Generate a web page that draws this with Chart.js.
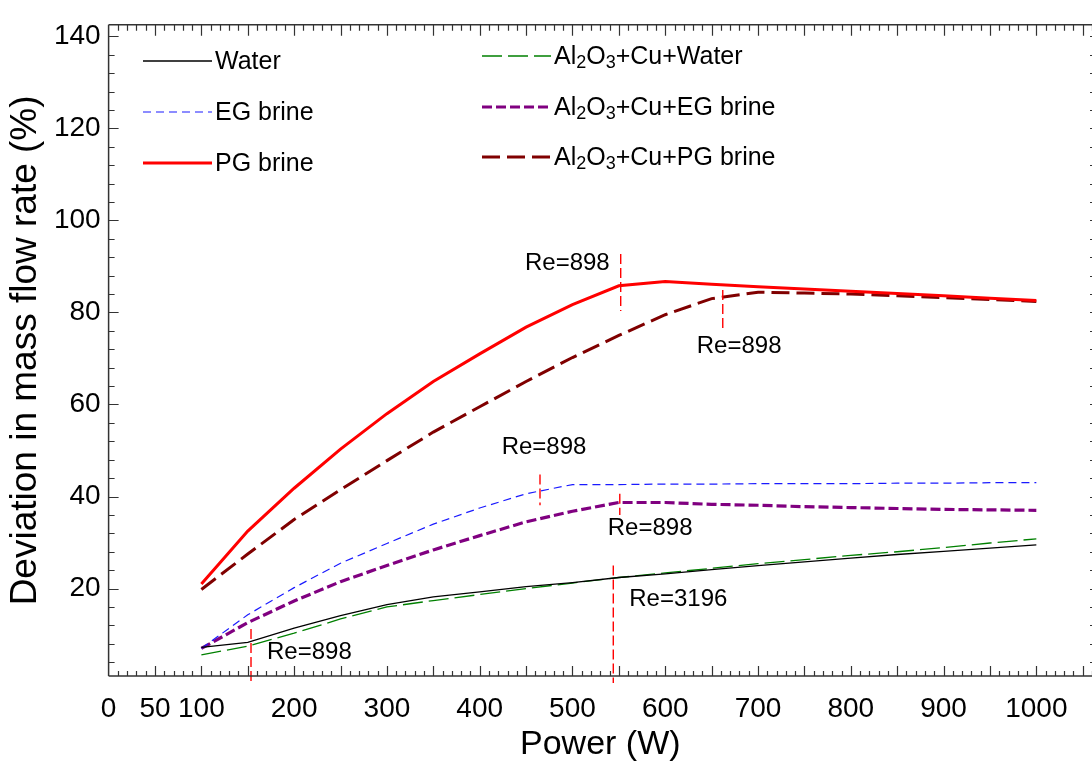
<!DOCTYPE html>
<html>
<head>
<meta charset="utf-8">
<script src="https://cdn.jsdelivr.net/npm/chart.js@4.4.1/dist/chart.umd.min.js"></script>
<style>
  html, body { margin: 0; padding: 0; background: #fff; }
</style>
</head>
<body>
<canvas id="flowChart" width="1092" height="765"></canvas>
<script>
// power levels (W) and deviation in mass flow rate (%)
const power = [100, 150, 200, 250, 300, 350, 400, 450, 500, 550, 600, 650, 700, 750, 800, 850, 900, 950, 1000];
const water = [7.2, 8.3, 11.4, 14.1, 16.5, 18.2, 19.3, 20.4, 21.3, 22.4, 23.2, 24.1, 25.0, 25.8, 26.6, 27.4, 28.1, 28.8, 29.5];
const egBrine = [7.0, 14.3, 20.2, 25.5, 29.8, 34.0, 37.5, 40.6, 42.6, 42.6, 42.7, 42.7, 42.8, 42.8, 42.8, 42.9, 42.9, 43.0, 43.0];
const pgBrine = [21.0, 32.5, 41.8, 50.3, 58.0, 65.0, 71.0, 76.8, 81.7, 85.8, 86.7, 86.1, 85.6, 85.1, 84.6, 84.1, 83.6, 83.1, 82.6];
const nanoWater = [5.6, 7.5, 10.3, 13.4, 16.0, 17.4, 18.7, 20.0, 21.2, 22.4, 23.4, 24.4, 25.4, 26.3, 27.2, 28.0, 28.9, 29.9, 30.8];
const nanoEg = [7.0, 12.6, 17.3, 21.5, 25.0, 28.4, 31.5, 34.5, 36.8, 38.7, 38.7, 38.3, 38.1, 37.8, 37.6, 37.4, 37.2, 37.1, 37.0];
const nanoPg = [19.8, 27.5, 35.0, 41.5, 47.8, 54.0, 59.5, 65.0, 70.2, 75.0, 79.5, 83.0, 84.4, 84.2, 84.0, 83.6, 83.2, 82.8, 82.4];

const xTickValues = [0, 50, 100, 200, 300, 400, 500, 600, 700, 800, 900, 1000];
const yTickValues = [20, 40, 60, 80, 100, 120, 140];

// Reynolds number transition markers: power, span of the dashed line, label
const reMarkers = [
  { power: 153.5, from: -0.5, to: 11.2, text: 'Re=898' },
  { power: 544, from: -0.5, to: 25.0, text: 'Re=3196' },
  { power: 465, from: 38.1, to: 44.8, text: 'Re=898' },
  { power: 551, from: 36.0, to: 40.6, text: 'Re=898' },
  { power: 552, from: 80.3, to: 92.7, text: 'Re=898' },
  { power: 662, from: 76.0, to: 84.9, text: 'Re=898' }
];

const FONT = '"Liberation Sans", Arial, sans-serif';

function pts(values) {
  return values.map((v, i) => ({ x: power[i], y: v }));
}

// legend text: "_2" means subscript 2
function drawRich(ctx, text, x, y, size) {
  const parts = text.split(/(_\d)/).filter(p => p.length);
  let cx = x;
  parts.forEach(p => {
    if (p[0] === '_') {
      ctx.font = Math.round(size * 0.72) + 'px ' + FONT;
      ctx.fillText(p.slice(1), cx, y + size * 0.26);
      cx += ctx.measureText(p.slice(1)).width;
    } else {
      ctx.font = size + 'px ' + FONT;
      ctx.fillText(p, cx, y);
      cx += ctx.measureText(p).width;
    }
  });
}

const frameAndTicks = {
  id: 'frameAndTicks',
  afterDraw(chart) {
    const { ctx, chartArea: a, scales: { x, y } } = chart;
    ctx.save();
    ctx.strokeStyle = '#333';
    ctx.lineWidth = 1.5;
    ctx.beginPath();
    ctx.moveTo(a.left, a.top); ctx.lineTo(a.right, a.top);
    ctx.moveTo(a.left, a.bottom); ctx.lineTo(a.right, a.bottom);
    ctx.moveTo(a.left, a.top); ctx.lineTo(a.left, a.bottom);
    ctx.stroke();

    ctx.lineWidth = 1.2;
    ctx.beginPath();
    for (let v = 10; v <= x.max; v += 10) {
      const px = Math.round(x.getPixelForValue(v)) + 0.5;
      const len = v % 50 === 0 ? 10 : 5;
      ctx.moveTo(px, a.bottom); ctx.lineTo(px, a.bottom - len);
      ctx.moveTo(px, a.top); ctx.lineTo(px, a.top + len + 1);
    }
    for (let v = 4; v <= y.max; v += 4) {
      const py = Math.round(y.getPixelForValue(v)) + 0.5;
      const len = v % 20 === 0 ? 10 : 6;
      ctx.moveTo(a.left, py); ctx.lineTo(a.left + len, py);
      ctx.moveTo(a.right, py); ctx.lineTo(a.right - 2, py);
    }
    ctx.stroke();
    ctx.restore();
  }
};

const reLines = {
  id: 'reLines',
  afterDatasetsDraw(chart) {
    const { ctx, scales: { x, y } } = chart;
    // label placement relative to the upper end of each marker
    const place = [
      { dx: 16, dy: 23, align: 'left' },
      { dx: 16, dy: 34, align: 'left' },
      { dx: 4, dy: -27, align: 'center' },
      { dx: -12, dy: 35, align: 'left' },
      { dx: -11, dy: 9, align: 'right' },
      { dx: -26, dy: 56, align: 'left' }
    ];
    ctx.save();
    reMarkers.forEach((m, i) => {
      const px = x.getPixelForValue(m.power);
      const top = y.getPixelForValue(m.to);
      const bottom = y.getPixelForValue(m.from);
      ctx.strokeStyle = '#ff0000';
      ctx.lineWidth = 1.4;
      ctx.setLineDash([10, 4]);
      ctx.beginPath();
      ctx.moveTo(px, top);
      ctx.lineTo(px, bottom);
      ctx.stroke();
      const p = place[i];
      ctx.setLineDash([]);
      ctx.fillStyle = '#000';
      ctx.font = '24px ' + FONT;
      ctx.textAlign = p.align;
      ctx.textBaseline = 'middle';
      ctx.fillText(m.text, px + p.dx, top + p.dy);
    });
    ctx.restore();
  }
};

const seriesLegend = {
  id: 'seriesLegend',
  afterDraw(chart) {
    const ctx = chart.ctx;
    const ds = chart.data.datasets;
    const slots = [
      { x: 143, y: 61 }, { x: 143, y: 112 }, { x: 143, y: 163 },
      { x: 482, y: 56 }, { x: 482, y: 107 }, { x: 482, y: 157 }
    ];
    ctx.save();
    ds.forEach((d, i) => {
      const s = slots[i];
      ctx.strokeStyle = d.borderColor;
      ctx.lineWidth = d.borderWidth;
      ctx.setLineDash(d.borderDash || []);
      ctx.beginPath();
      ctx.moveTo(s.x, s.y);
      ctx.lineTo(s.x + 69, s.y);
      ctx.stroke();
      ctx.setLineDash([]);
      ctx.fillStyle = '#000';
      ctx.textAlign = 'left';
      ctx.textBaseline = 'middle';
      drawRich(ctx, d.legendText, s.x + 72, s.y + 1, 25);
    });
    ctx.restore();
  }
};

new Chart(document.getElementById('flowChart'), {
  type: 'line',
  data: {
    datasets: [
      { label: 'Water', legendText: 'Water', data: pts(water), borderColor: '#000000', borderWidth: 1.3 },
      { label: 'EG brine', legendText: 'EG brine', data: pts(egBrine), borderColor: '#1a1aff', borderWidth: 1.2, borderDash: [8, 5] },
      { label: 'PG brine', legendText: 'PG brine', data: pts(pgBrine), borderColor: '#ff0000', borderWidth: 3 },
      { label: 'Al2O3+Cu+Water', legendText: 'Al_2O_3+Cu+Water', data: pts(nanoWater), borderColor: '#008000', borderWidth: 1.3, borderDash: [20, 6] },
      { label: 'Al2O3+Cu+EG brine', legendText: 'Al_2O_3+Cu+EG brine', data: pts(nanoEg), borderColor: '#800080', borderWidth: 3.2, borderDash: [10, 4] },
      { label: 'Al2O3+Cu+PG brine', legendText: 'Al_2O_3+Cu+PG brine', data: pts(nanoPg), borderColor: '#800000', borderWidth: 3, borderDash: [18, 7] }
    ]
  },
  options: {
    responsive: false,
    animation: false,
    layout: { padding: { top: 10.7, right: 0, left: 0, bottom: 0 } },
    elements: { point: { radius: 0 }, line: { tension: 0, fill: false } },
    plugins: { legend: { display: false }, tooltip: { enabled: false } },
    scales: {
      x: {
        type: 'linear',
        min: 0,
        max: 1060,
        afterBuildTicks: s => { s.ticks = xTickValues.map(v => ({ value: v })); },
        afterFit: s => { s.height = 89; },
        grid: { display: false, drawTicks: false },
        border: { display: false },
        ticks: { autoSkip: false, maxRotation: 0, color: '#000', padding: 16, font: { family: FONT, size: 28 }, callback: v => String(v) },
        title: { display: true, text: 'Power (W)', color: '#000', padding: 0, font: { family: FONT, size: 34 } }
      },
      y: {
        min: 1,
        max: 142.5,
        afterBuildTicks: s => { s.ticks = yTickValues.map(v => ({ value: v })); },
        afterFit: s => { s.width = 108.6; },
        grid: { display: false, drawTicks: false },
        border: { display: false },
        ticks: { color: '#000', padding: 8, font: { family: FONT, size: 28 } },
        title: { display: true, text: 'Deviation in mass flow rate (%)', color: '#000', padding: 4, font: { family: FONT, size: 37 } }
      }
    }
  },
  plugins: [frameAndTicks, reLines, seriesLegend]
});
</script>
</body>
</html>
